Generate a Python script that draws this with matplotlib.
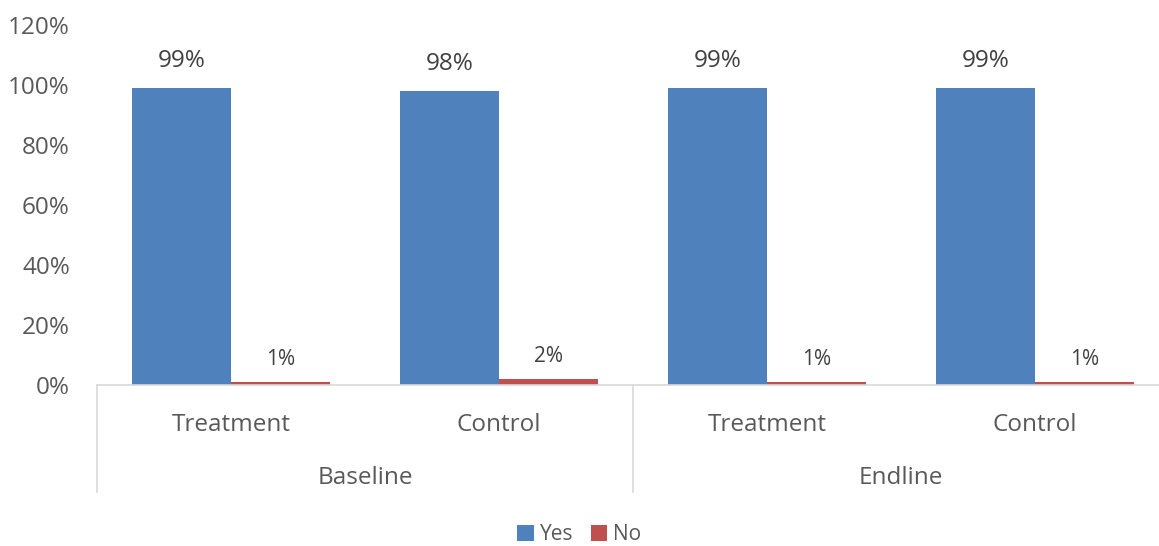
import matplotlib
matplotlib.use('Agg')
import matplotlib.pyplot as plt
import numpy as np

categories = ['Treatment', 'Control', 'Treatment', 'Control']
groups = ['Baseline', 'Endline']
yes_vals = [0.99, 0.98, 0.99, 0.99]
no_vals = [0.01, 0.02, 0.01, 0.01]

plt.rcParams['font.family'] = ['Open Sans', 'DejaVu Sans']
txt = '#595959'
blue = '#4f81bd'
red = '#c0504d'

fig = plt.figure(figsize=(11.59, 5.46), dpi=100)
ax = fig.add_axes([97 / 1159, 1 - 385 / 546, 1072 / 1159, 360 / 546])

x = np.arange(len(categories))
w = 0.37
b1 = ax.bar(x - w / 2, yes_vals, w, color=blue, label='Yes')
b2 = ax.bar(x + w / 2, no_vals, w, color=red, label='No')

for r, v in zip(b1, yes_vals):
    ax.text(r.get_x() + r.get_width() / 2, v + 0.05, f'{v:.0%}', ha='center', va='bottom',
            fontsize=17.5, color='#404040')
for r, v in zip(b2, no_vals):
    ax.text(r.get_x() + r.get_width() / 2, v + 0.04, f'{v:.0%}', ha='center', va='bottom',
            fontsize=15, color='#404040')

ax.set_xlim(-0.5, len(categories) - 0.5)
ax.set_ylim(0, 1.2)
ax.set_yticks(np.arange(0, 1.21, 0.2))
ax.set_yticklabels([f'{t:.0%}' for t in np.arange(0, 1.21, 0.2)])
ax.tick_params(axis='y', length=0, pad=19.5, labelsize=17.5, labelcolor=txt)
ax.set_xticks([])

for s in ['top', 'right', 'left']:
    ax.spines[s].set_visible(False)
ax.spines['bottom'].set_color('#d9d9d9')
ax.spines['bottom'].set_linewidth(1.2)

trans = ax.get_xaxis_transform()
for i, c in enumerate(categories):
    ax.text(i, -0.11, c, transform=trans, ha='center', va='center', fontsize=17.5, color=txt)
for j, g in enumerate(groups):
    ax.text(2 * j + 0.5, -0.258, g, transform=trans, ha='center', va='center', fontsize=17.5, color=txt)
for xb in [-0.5, 1.5, 3.5]:
    ax.plot([xb, xb], [0, -0.297], transform=trans, color='#d9d9d9', lw=1.2, clip_on=False)

leg = fig.legend(handles=[b1, b2], loc='center', bbox_to_anchor=(0.5, 1 - 535 / 546), ncol=2,
                 frameon=False, fontsize=15, handlelength=0.8, handleheight=0.8,
                 handletextpad=0.3, columnspacing=0.8)
for t in leg.get_texts():
    t.set_color(txt)

fig.savefig('out.png', dpi=100)
